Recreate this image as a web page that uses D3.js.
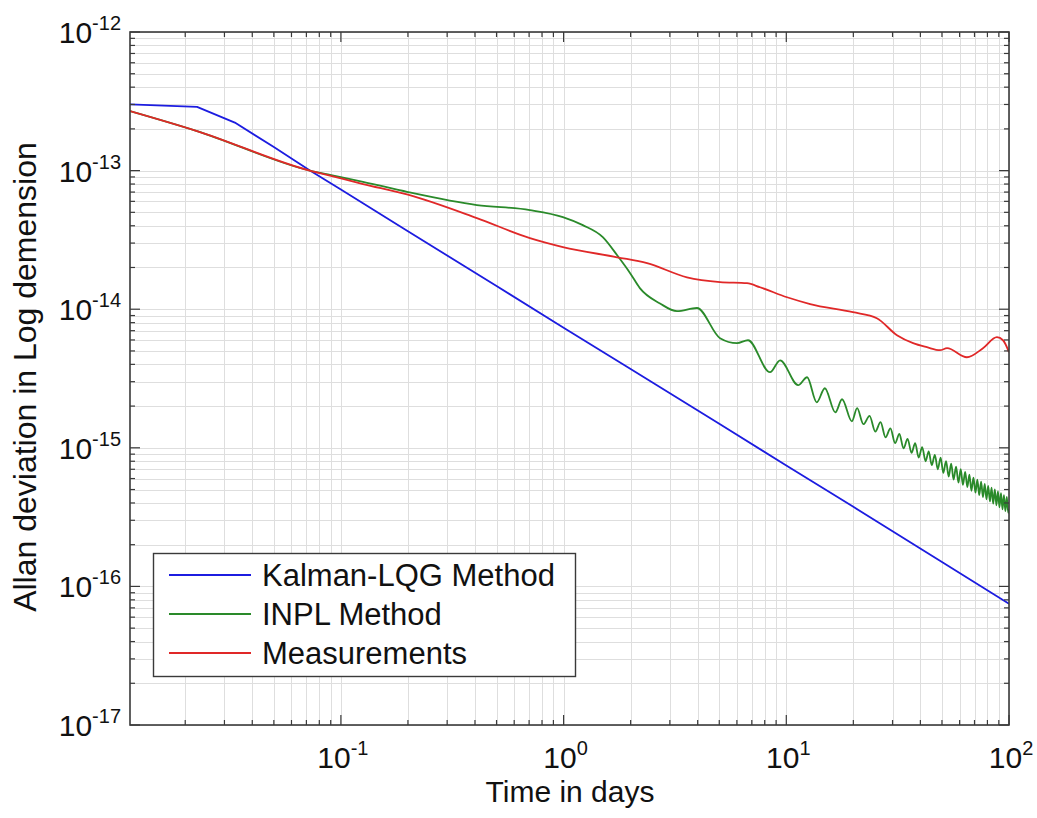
<!DOCTYPE html>
<html>
<head>
<meta charset="utf-8">
<script src="https://cdn.jsdelivr.net/npm/d3@7"></script>
<style>
  html, body { margin: 0; padding: 0; background: #fff; }
  text { font-family: "Liberation Sans", Arial, Helvetica, sans-serif; fill: #111; }
</style>
</head>
<body>
<svg id="chart" width="1037" height="818"></svg>
<script>
// ---------- data ----------
const seriesNames = ["Kalman-LQG Method", "INPL Method", "Measurements"];
const seriesColors = ["#1c1ce0", "#2a8a2a", "#e02828"];

const xTickExponents = [-1, 0, 1, 2];
const yTickExponents = [-12, -13, -14, -15, -16, -17];
const xLabel = "Time in days";
const yLabel = "Allan deviation in Log demension";

// Kalman-LQG Method
const tauBlue   = [0.0113, 0.0226, 0.0334, 0.05, 0.0726, 0.1, 0.2, 0.5, 1, 2, 5, 10, 20, 50, 100];
const allanBlue = [3.0e-13, 2.88e-13, 2.22e-13, 1.48e-13, 1.0e-13, 7.3e-14, 3.65e-14, 1.47e-14,
                   7.35e-15, 3.7e-15, 1.49e-15, 7.45e-16, 3.75e-16, 1.5e-16, 7.5e-17];

// Measurements
const tauRed   = [0.0113, 0.0226, 0.0726, 0.0893, 0.1257, 0.2, 0.408, 0.706, 0.993, 1.74, 2.37, 3.58,
                  5.04, 6.66, 7.62, 10.08, 12.8, 19.9, 25.5, 31.4, 37.1, 42.8, 49.0, 52.7, 64.7, 76.4,
                  88.3, 94.0, 100];
const allanRed = [2.69e-13, 1.93e-13, 1.0e-13, 9.2e-14, 8.0e-14, 6.7e-14, 4.54e-14, 3.26e-14, 2.81e-14,
                  2.37e-14, 2.15e-14, 1.70e-14, 1.57e-14, 1.54e-14, 1.44e-14, 1.22e-14, 1.09e-14, 9.51e-15,
                  8.61e-15, 6.49e-15, 5.69e-15, 5.32e-15, 5.06e-15, 5.23e-15, 4.50e-15, 5.23e-15,
                  6.28e-15, 5.97e-15, 4.9e-15];

// INPL Method
const tauGreen = [0.0113, 0.0226, 0.0726, 0.0893, 0.1257, 0.2, 0.408, 0.706, 0.993, 1.22, 1.50, 1.74,
                  1.99, 2.20, 2.71, 3.23, 3.97, 5.04, 6.01, 6.73, 8.45, 9.38, 11.3, 12.4, 13.7, 14.9,
                  16.6, 17.8, 19.7, 20.8, 22.2, 23.65, 25.1, 26.5, 27.9, 29.35, 30.8, 32.2, 33.6, 35.05,
                  36.5, 37.9, 39.3, 40.75, 42.2, 43.6, 45.0, 46.45, 47.9, 49.3, 50.7, 52.15, 53.6, 55.0,
                  56.4, 57.85, 59.3, 60.7, 62.1, 63.55, 65.0, 66.4, 67.8, 69.25, 70.7, 72.1, 73.5, 74.95,
                  76.4, 77.8, 79.2, 80.65, 82.1, 83.5, 84.9, 86.35, 87.8, 89.2, 90.6, 92.05, 93.5, 94.9,
                  96.3, 97.75, 99.2, 100];
const allanGreen = [2.69e-13, 1.93e-13, 1.0e-13, 9.3e-14, 8.3e-14, 7.0e-14, 5.64e-14, 5.19e-14, 4.62e-14,
                    4.04e-14, 3.31e-14, 2.45e-14, 1.82e-14, 1.42e-14, 1.10e-14, 9.68e-15, 1.02e-14,
                    6.18e-15, 5.69e-15, 5.97e-15, 3.51e-15, 4.28e-15, 2.83e-15, 3.23e-15, 2.13e-15,
                    2.69e-15, 1.80e-15, 2.24e-15, 1.55e-15, 1.93e-15, 1.48e-15, 1.70e-15, 1.31e-15,
                    1.53e-15, 1.19e-15, 1.38e-15, 1.08e-15, 1.26e-15, 9.9e-16, 1.16e-15, 9.2e-16,
                    1.08e-15, 8.5e-16, 1.01e-15, 8.0e-16, 9.4e-16, 7.5e-16, 8.9e-16, 7.0e-16, 8.5e-16,
                    6.6e-16, 8.0e-16, 6.2e-16, 7.7e-16, 5.9e-16, 7.3e-16, 5.6e-16, 7.0e-16, 5.4e-16,
                    6.7e-16, 5.2e-16, 6.4e-16, 4.9e-16, 6.1e-16, 4.75e-16, 5.9e-16, 4.55e-16, 5.7e-16,
                    4.4e-16, 5.5e-16, 4.25e-16, 5.3e-16, 4.1e-16, 5.15e-16, 3.95e-16, 5.0e-16,
                    3.85e-16, 4.85e-16, 3.72e-16, 4.7e-16, 3.6e-16, 4.56e-16, 3.5e-16, 4.42e-16,
                    3.4e-16, 3.6e-16];

// ---------- layout ----------
const svg = d3.select("#chart");
const L = 130, R = 1009, T = 32, B = 725;
const x = d3.scaleLog().domain([0.0113, 100]).range([L, R]);
const y = d3.scaleLog().domain([1e-17, 1e-12]).range([B, T]);

// minor / major tick values
const xMajor = xTickExponents.map(e => Math.pow(10, e));
const yMajor = yTickExponents.map(e => Math.pow(10, e));
const xMinor = [], yMinor = [];
for (let e = -2; e < 2; e++) for (let k = 2; k <= 9; k++) {
  const v = k * Math.pow(10, e);
  if (v > x.domain()[0] && v < 100) xMinor.push(v);
}
for (let e = -17; e < -12; e++) for (let k = 2; k <= 9; k++) yMinor.push(k * Math.pow(10, e));

// grid
const grid = svg.append("g").attr("stroke", "#dedede").attr("stroke-width", 1);
xMajor.concat(xMinor).forEach(v => {
  const px = Math.round(x(v)) + 0.5;
  grid.append("line").attr("x1", px).attr("x2", px).attr("y1", T).attr("y2", B);
});
yMajor.concat(yMinor).forEach(v => {
  const py = Math.round(y(v)) + 0.5;
  grid.append("line").attr("x1", L).attr("x2", R).attr("y1", py).attr("y2", py);
});

// clip
svg.append("clipPath").attr("id", "clip").append("rect")
  .attr("x", L).attr("y", T).attr("width", R - L).attr("height", B - T);

// series
const series = [
  { tau: tauBlue, val: allanBlue, curve: d3.curveLinear },
  { tau: tauGreen, val: allanGreen, curve: d3.curveMonotoneX },
  { tau: tauRed, val: allanRed, curve: d3.curveMonotoneX }
];
const plot = svg.append("g").attr("clip-path", "url(#clip)");
[0, 1, 2].forEach(i => {
  const s = series[i];
  const pts = s.tau.map((t, j) => [t, s.val[j]]);
  plot.append("path")
    .attr("d", d3.line().x(d => x(d[0])).y(d => y(d[1])).curve(s.curve)(pts))
    .attr("fill", "none")
    .attr("stroke", seriesColors[i])
    .attr("stroke-width", 1.8)
    .attr("stroke-linejoin", "round");
});

// frame & ticks
const axis = svg.append("g").attr("stroke", "#3a3a3a");
axis.append("rect").attr("x", L).attr("y", T).attr("width", R - L).attr("height", B - T)
  .attr("fill", "none").attr("stroke-width", 1.6);
const tick = (x1, y1, x2, y2) => axis.append("line").attr("x1", x1).attr("y1", y1)
  .attr("x2", x2).attr("y2", y2).attr("stroke-width", 1.2);
xMajor.forEach(v => { const p = x(v); tick(p, B, p, B - 10); tick(p, T, p, T + 10); });
xMinor.forEach(v => { const p = x(v); tick(p, B, p, B - 5); tick(p, T, p, T + 5); });
yMajor.forEach(v => { const p = y(v); tick(L, p, L + 10, p); tick(R, p, R - 10, p); });
yMinor.forEach(v => { const p = y(v); tick(L, p, L + 5, p); tick(R, p, R - 5, p); });

// tick labels
xTickExponents.forEach(e => {
  const t = svg.append("text").attr("x", x(Math.pow(10, e)) + 2).attr("y", 768)
    .attr("text-anchor", "middle").attr("font-size", 30);
  t.append("tspan").text("10");
  t.append("tspan").attr("dy", -13).attr("font-size", 20).text(String(e));
});
yTickExponents.forEach(e => {
  const t = svg.append("text").attr("x", 121).attr("y", y(Math.pow(10, e)) + 11)
    .attr("text-anchor", "end").attr("font-size", 30);
  t.append("tspan").text("10");
  t.append("tspan").attr("dy", -13).attr("font-size", 20).text(String(e));
});

// axis titles
svg.append("text").attr("x", 570).attr("y", 802).attr("text-anchor", "middle")
  .attr("font-size", 30).text(xLabel);
svg.append("text").attr("transform", "translate(36,377) rotate(-90)")
  .attr("text-anchor", "middle").attr("font-size", 32).text(yLabel);

// legend
const lg = svg.append("g");
lg.append("rect").attr("x", 153.5).attr("y", 553.5).attr("width", 422).attr("height", 123)
  .attr("fill", "#fff").attr("stroke", "#3a3a3a").attr("stroke-width", 1.4);
seriesNames.forEach((name, i) => {
  const cy = 575 + i * 39;
  lg.append("line").attr("x1", 169).attr("x2", 251).attr("y1", cy).attr("y2", cy)
    .attr("stroke", seriesColors[i]).attr("stroke-width", 1.8);
  lg.append("text").attr("x", 262).attr("y", cy + 11).attr("font-size", 31).text(name);
});
</script>
</body>
</html>
